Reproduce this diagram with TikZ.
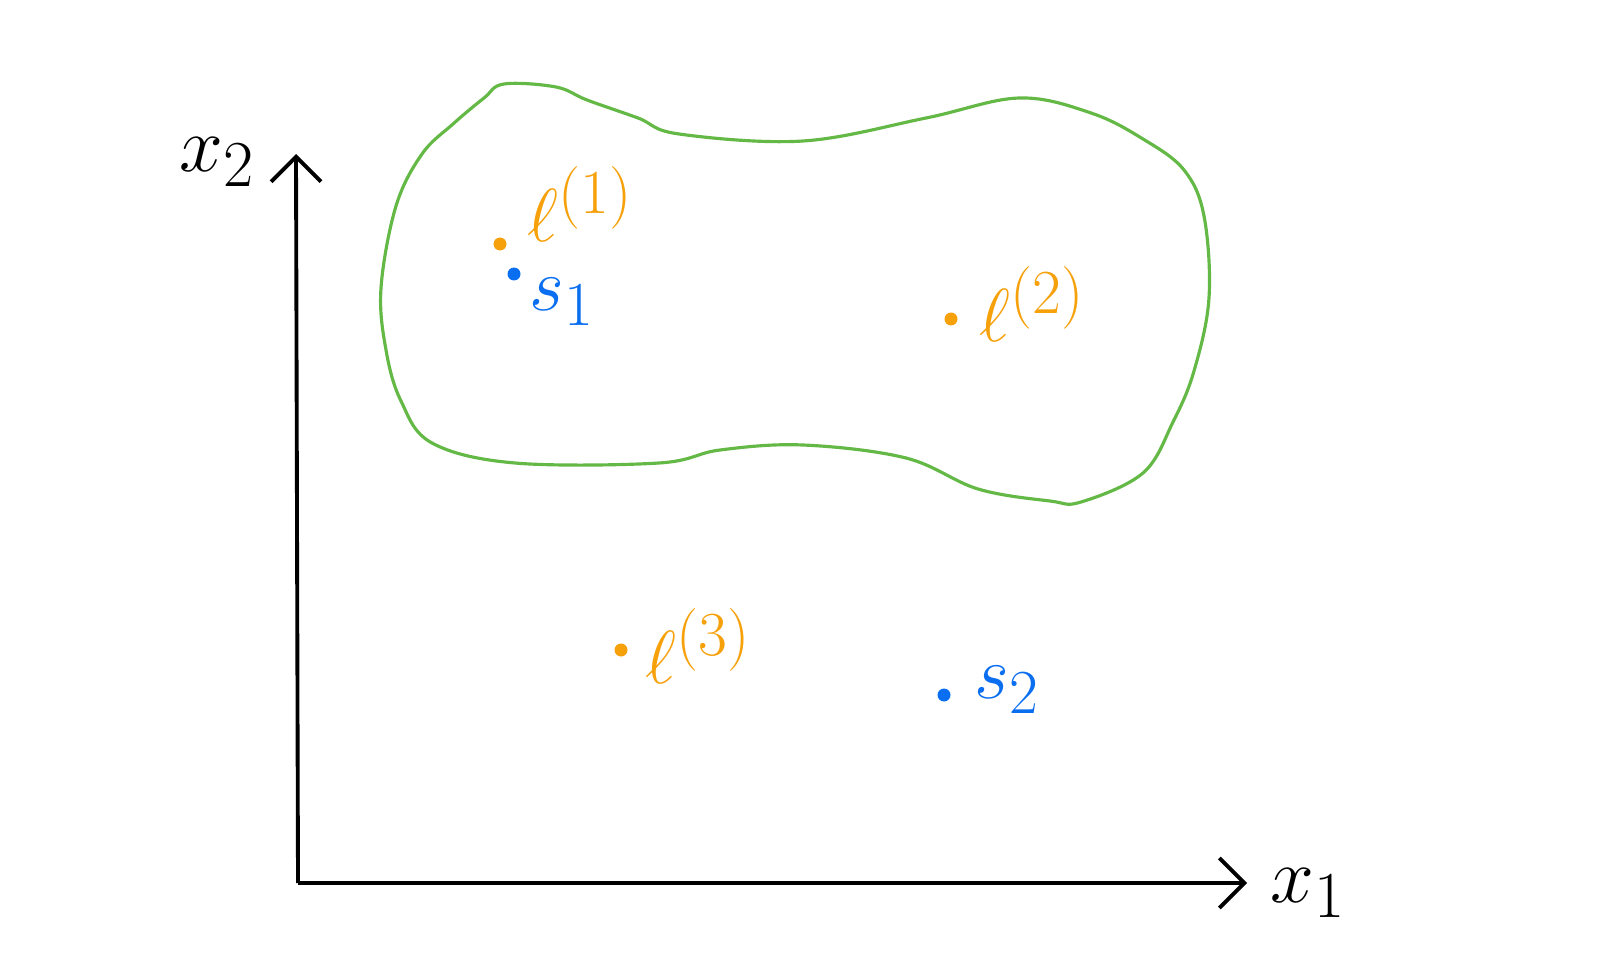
\documentclass[tikz,border=0pt]{standalone}
\usepackage{amsmath}
\usetikzlibrary{arrows.meta}

\definecolor{lmorange}{RGB}{246,160,10}
\definecolor{sblue}{RGB}{10,110,240}
\definecolor{regiongreen}{RGB}{100,185,70}

\tikzset{
  axis/.style={line width=2.2pt, -{Straight Barb[length=5mm,width=10mm,line width=2.2pt]}},
  lmpt/.style={circle, fill=lmorange, inner sep=0pt, minimum size=2.6mm},
  spt/.style={circle, fill=sblue, inner sep=0pt, minimum size=2.6mm},
  lmlab/.style={text=lmorange, font=\Huge, scale=1.72, inner sep=1pt},
  slab/.style={text=sblue, font=\Huge, scale=1.72, inner sep=1pt},
  axlab/.style={font=\Huge, scale=1.8, inner sep=1pt},
}

\begin{document}
\begin{tikzpicture}[x=0.02cm, y=-0.02cm]
    \useasboundingbox (0,0) rectangle (1614,980);

    % axes
    \coordinate (o) at (298,883);
    \coordinate (ytop) at (296,154);
    \coordinate (xend) at (1247,883);
    \draw[axis] (o) -- (ytop);
    \draw[axis] (o) -- (xend);
    \node[axlab] (x2) at (217,162) {$x_2$};
    \node[axlab] (x1) at (1308,893) {$x_1$};

    % region
    \draw[regiongreen, line width=1.8pt] plot[smooth cycle, tension=0.6] coordinates {
      (504,84) (556,87) (587,100) (638,118) (679,134) (803,141) (926,118)
      (1019,98) (1091,113) (1143,139) (1184,170) (1204,216) (1209,298)
      (1194,371) (1173,422) (1143,473) (1081,502) (1050,501) (978,489)
      (906,458) (803,445) (720,450) (659,463) (515,463) (432,443) (401,401)
      (386,350) (381,288) (396,206) (422,154) (453,124) (484,98)};

    % points
    \node[lmpt] (l1) at (500,244) {};
    \node[lmlab] (l1lab) at (580,204) {$\ell^{(1)}$};
    \node[spt] (s1) at (514,274) {};
    \node[slab] (s1lab) at (562,302) {$s_1$};
    \node[lmpt] (l2) at (951,319) {};
    \node[lmlab] (l2lab) at (1032,304) {$\ell^{(2)}$};
    \node[lmpt] (l3) at (621,650) {};
    \node[lmlab] (l3lab) at (698,646) {$\ell^{(3)}$};
    \node[spt] (s2) at (944,695) {};
    \node[slab] (s2lab) at (1007,690) {$s_2$};
\end{tikzpicture}
\end{document}
